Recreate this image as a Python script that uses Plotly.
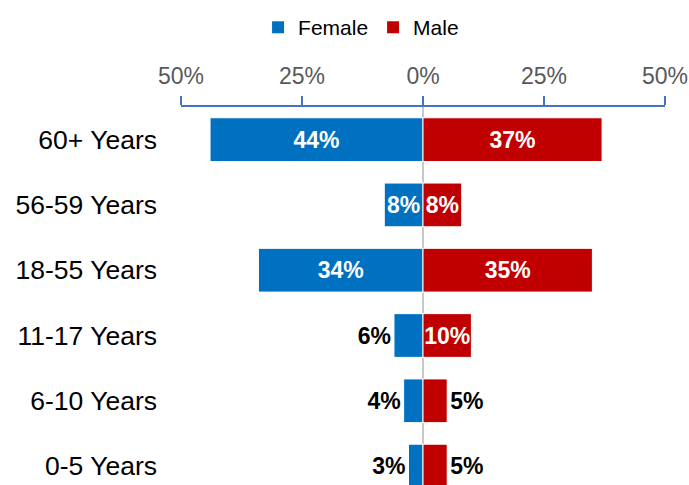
import plotly.graph_objects as go

# Age groups, top to bottom
categories = ["60+ Years", "56-59 Years", "18-55 Years", "11-17 Years", "6-10 Years", "0-5 Years"]
female_pct = [44, 8, 34, 6, 4, 3]
male_pct = [37, 8, 35, 10, 5, 5]
female_pos = ["inside", "inside", "inside", "outside", "outside", "outside"]
male_pos = ["inside", "inside", "inside", "inside", "outside", "outside"]
tick_vals = [-50, -25, 0, 25, 50]
tick_text = ["50%", "25%", "0%", "25%", "50%"]

FONT = "Arial, Liberation Sans, sans-serif"
BLUE = "#0070C0"
RED = "#C00000"
rows = list(range(len(categories)))

label_in = dict(color="white", size=23, family=FONT, weight="bold")
label_out = dict(color="black", size=23, family=FONT, weight="bold")

fig = go.Figure()
fig.add_trace(go.Bar(
    name="Female", y=rows, x=[-v for v in female_pct], orientation="h",
    marker=dict(color=BLUE, line=dict(color="white", width=1)),
    width=0.67, text=[f"{v}%" for v in female_pct], textposition=female_pos,
    insidetextanchor="middle", constraintext="none", textangle=0, cliponaxis=False,
    insidetextfont=label_in, outsidetextfont=label_out,
    hoverinfo="skip", showlegend=False,
))
fig.add_trace(go.Bar(
    name="Male", y=rows, x=male_pct, orientation="h",
    marker=dict(color=RED, line=dict(color="white", width=1)),
    width=0.67, text=[f"{v}%" for v in male_pct], textposition=male_pos,
    insidetextanchor="middle", constraintext="none", textangle=0, cliponaxis=False,
    insidetextfont=label_in, outsidetextfont=label_out,
    hoverinfo="skip", showlegend=False,
))

# Square legend keys
for name, color in [("Female", BLUE), ("Male", RED)]:
    fig.add_trace(go.Scatter(
        name=name, x=[None], y=[None], mode="markers",
        marker=dict(symbol="square", size=12, color=color),
        hoverinfo="skip", showlegend=True,
    ))

fig.update_layout(
    width=689, height=485,
    margin=dict(l=181, r=24, t=107, b=0),
    barmode="overlay",
    plot_bgcolor="white", paper_bgcolor="white",
    font=dict(family=FONT),
    legend=dict(orientation="h", x=0.372, xanchor="center", y=1.21, yanchor="middle",
                font=dict(size=21, color="black"), itemwidth=30, traceorder="normal"),
    xaxis=dict(
        side="top", range=[-50, 50], tickvals=tick_vals, ticktext=tick_text,
        tickfont=dict(size=23, color="#595959"),
        showline=True, linecolor="#4472C4", linewidth=1.5,
        ticks="outside", ticklen=9, tickwidth=1.5, tickcolor="#4472C4",
        ticklabelstandoff=3,
        showgrid=False, zeroline=True, zerolinecolor="#C8C8C8", zerolinewidth=2,
        layer="above traces", fixedrange=True,
    ),
    yaxis=dict(
        range=[5.29, -0.5], tickvals=rows, ticktext=categories,
        tickfont=dict(size=26.5, color="black"),
        showline=False, showgrid=False, zeroline=False, ticks="",
        ticklabelstandoff=23, fixedrange=True,
    ),
)

fig.write_html("out.html")
